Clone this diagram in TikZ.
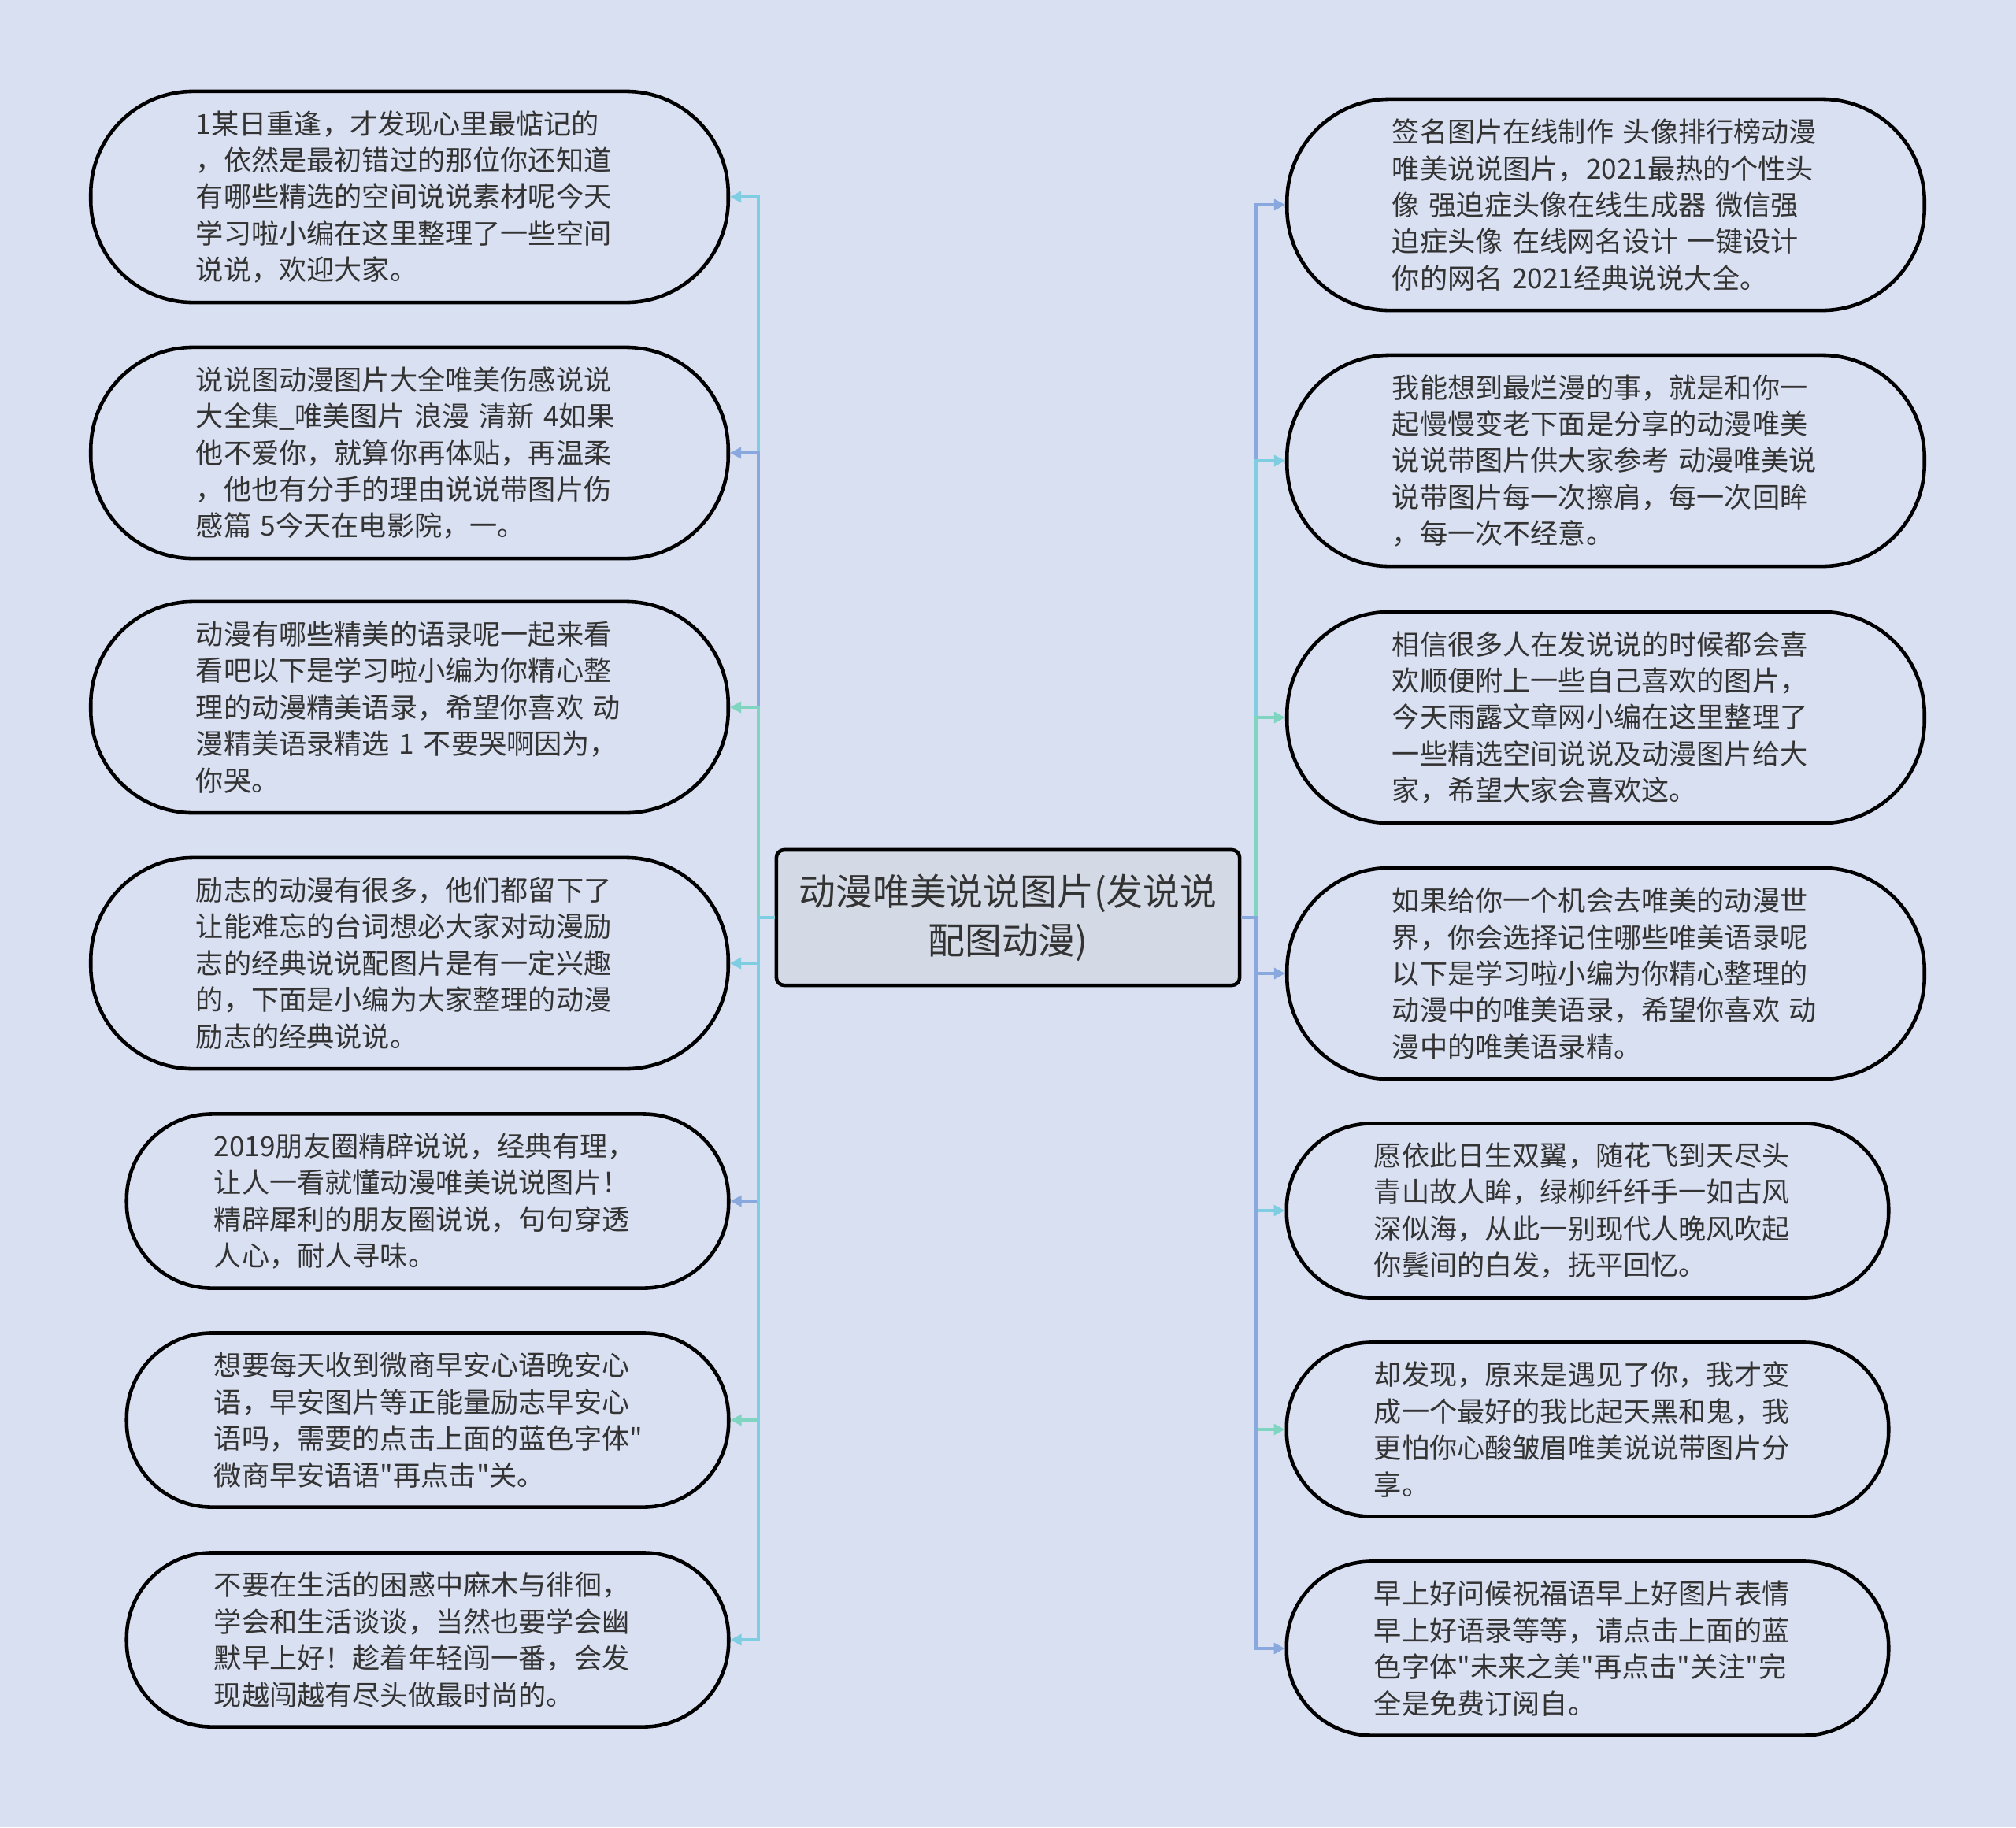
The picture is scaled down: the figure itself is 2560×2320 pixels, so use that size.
\documentclass[tikz,border=0pt]{standalone}
\usepackage{fontspec}
\newfontfamily\cjkfont{Noto Sans CJK SC}
\usepackage{tikz}
\usepackage{xcolor}
\usetikzlibrary{arrows.meta}
\definecolor{PageBg}{HTML}{D9E0F2}
\definecolor{RootFill}{HTML}{D3DAE6}
\definecolor{InkGray}{HTML}{333333}
\definecolor{LinkCyan}{HTML}{7FCDE0}
\definecolor{LinkBlue}{HTML}{89A8DE}
\definecolor{LinkGreen}{HTML}{80D5C0}
\tikzset{
  rootbox/.style={draw=black, line width=1.3pt, fill=RootFill, rounded corners=0.1cm, align=center, minimum width=5.88cm, minimum height=1.72cm, inner sep=0pt, text=InkGray, font=\cjkfont\fontsize{13.3}{17.6}\selectfont},
  leafbox/.style={draw=black, line width=1.3pt, fill=PageBg, text width=5.42cm, align=left, inner sep=0pt, text=InkGray, font=\cjkfont\fontsize{10}{13.2}\selectfont},
  bigleaf/.style={leafbox, minimum width=8.09cm, minimum height=2.68cm, rounded corners=1.3cm},
  smallleaf/.style={leafbox, minimum width=7.64cm, minimum height=2.21cm, rounded corners=1.08cm},
  branch/.style={-{Triangle[length=1.4mm, width=1.4mm]}, line width=0.9pt}
}
\begin{document}
\begin{tikzpicture}[x=0.01cm, y=-0.01cm]
    \fill[PageBg] (0,0) rectangle (2560,2320);
    \useasboundingbox (0,0) rectangle (2560,2320);

    \node[rootbox] (root) at (1280,1165) {动漫唯美说说图片(发说说\\配图动漫)};
    \coordinate (ltrunk) at (963,1165);
    \coordinate (rtrunk) at (1595,1165);

    % left side
    \node[bigleaf] (l1) at (520,250) {1某日重逢，才发现心里最惦记的\\，依然是最初错过的那位你还知道\\有哪些精选的空间说说素材呢今天\\学习啦小编在这里整理了一些空间\\说说，欢迎大家。};
    \node[bigleaf] (l2) at (520,575) {说说图动漫图片大全唯美伤感说说\\大全集\_唯美图片 浪漫 清新 4如果\\他不爱你，就算你再体贴，再温柔\\，他也有分手的理由说说带图片伤\\感篇 5今天在电影院，一。};
    \node[bigleaf] (l3) at (520,898) {动漫有哪些精美的语录呢一起来看\\看吧以下是学习啦小编为你精心整\\理的动漫精美语录，希望你喜欢 动\\漫精美语录精选 1 不要哭啊因为，\\你哭。};
    \node[bigleaf] (l4) at (520,1223) {励志的动漫有很多，他们都留下了\\让能难忘的台词想必大家对动漫励\\志的经典说说配图片是有一定兴趣\\的，下面是小编为大家整理的动漫\\励志的经典说说。};
    \node[smallleaf] (l5) at (543,1525) {2019朋友圈精辟说说，经典有理，\\让人一看就懂动漫唯美说说图片！\\精辟犀利的朋友圈说说，句句穿透\\人心，耐人寻味。};
    \node[smallleaf] (l6) at (543,1803) {想要每天收到微商早安心语晚安心\\语，早安图片等正能量励志早安心\\语吗，需要的点击上面的蓝色字体"\\微商早安语语"再点击"关。};
    \node[smallleaf] (l7) at (543,2082) {不要在生活的困惑中麻木与徘徊，\\学会和生活谈谈，当然也要学会幽\\默早上好！趁着年轻闯一番，会发\\现越闯越有尽头做最时尚的。};

    % right side
    \node[bigleaf] (r1) at (2039,260) {签名图片在线制作 头像排行榜动漫\\唯美说说图片，2021最热的个性头\\像 强迫症头像在线生成器 微信强\\迫症头像 在线网名设计 一键设计\\你的网名 2021经典说说大全。};
    \node[bigleaf] (r2) at (2039,585) {我能想到最烂漫的事，就是和你一\\起慢慢变老下面是分享的动漫唯美\\说说带图片供大家参考 动漫唯美说\\说带图片每一次擦肩，每一次回眸\\，每一次不经意。};
    \node[bigleaf] (r3) at (2039,911) {相信很多人在发说说的时候都会喜\\欢顺便附上一些自己喜欢的图片，\\今天雨露文章网小编在这里整理了\\一些精选空间说说及动漫图片给大\\家，希望大家会喜欢这。};
    \node[bigleaf] (r4) at (2039,1236) {如果给你一个机会去唯美的动漫世\\界，你会选择记住哪些唯美语录呢\\以下是学习啦小编为你精心整理的\\动漫中的唯美语录，希望你喜欢 动\\漫中的唯美语录精。};
    \node[smallleaf] (r5) at (2016,1537) {愿依此日生双翼，随花飞到天尽头\\青山故人眸，绿柳纤纤手一如古风\\深似海，从此一别现代人晚风吹起\\你鬓间的白发，抚平回忆。};
    \node[smallleaf] (r6) at (2016,1815) {却发现，原来是遇见了你，我才变\\成一个最好的我比起天黑和鬼，我\\更怕你心酸皱眉唯美说说带图片分\\享。};
    \node[smallleaf] (r7) at (2016,2093) {早上好问候祝福语早上好图片表情\\早上好语录等等，请点击上面的蓝\\色字体"未来之美"再点击"关注"完\\全是免费订阅自。};

    \draw[branch, LinkCyan] (root.west) -- (ltrunk) |- (l1.east);
    \draw[branch, LinkBlue] (root.west) -- (ltrunk) |- (l2.east);
    \draw[branch, LinkGreen] (root.west) -- (ltrunk) |- (l3.east);
    \draw[branch, LinkCyan] (root.west) -- (ltrunk) |- (l4.east);
    \draw[branch, LinkBlue] (root.west) -- (ltrunk) |- (l5.east);
    \draw[branch, LinkGreen] (root.west) -- (ltrunk) |- (l6.east);
    \draw[branch, LinkCyan] (root.west) -- (ltrunk) |- (l7.east);

    \draw[branch, LinkBlue] (root.east) -- (rtrunk) |- (r1.west);
    \draw[branch, LinkCyan] (root.east) -- (rtrunk) |- (r2.west);
    \draw[branch, LinkGreen] (root.east) -- (rtrunk) |- (r3.west);
    \draw[branch, LinkBlue] (root.east) -- (rtrunk) |- (r4.west);
    \draw[branch, LinkCyan] (root.east) -- (rtrunk) |- (r5.west);
    \draw[branch, LinkGreen] (root.east) -- (rtrunk) |- (r6.west);
    \draw[branch, LinkBlue] (root.east) -- (rtrunk) |- (r7.west);
  \end{tikzpicture}
\end{document}
